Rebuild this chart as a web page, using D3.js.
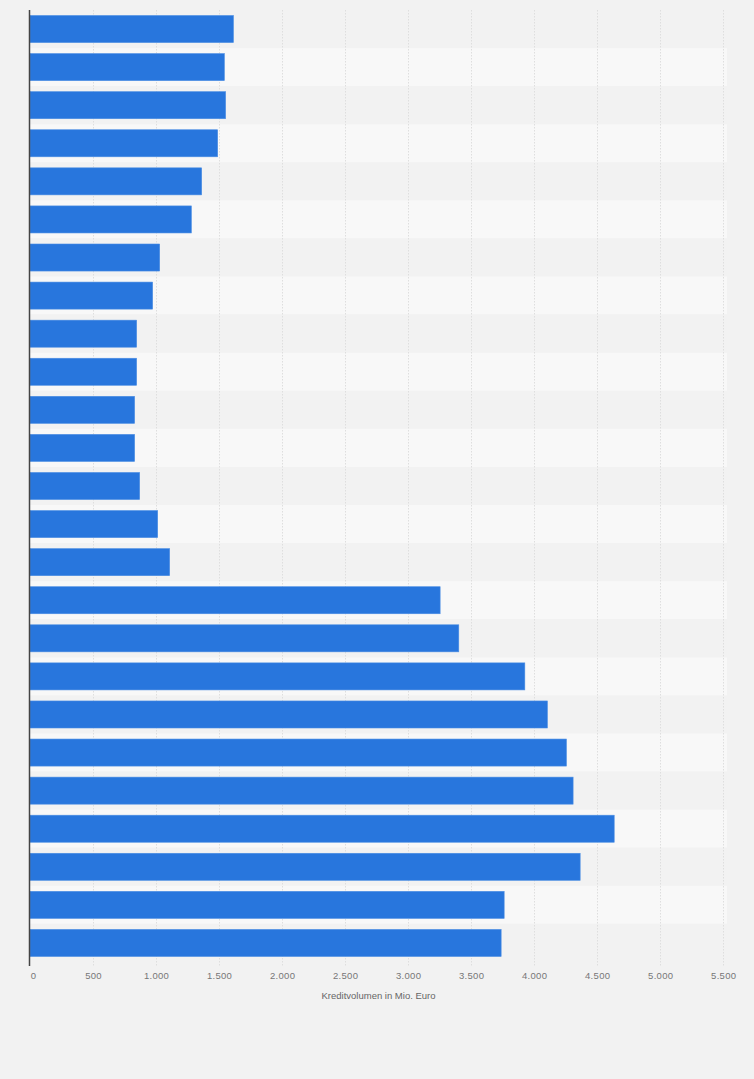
<!DOCTYPE html>
<html>
<head>
<meta charset="utf-8">
<script src="https://cdn.jsdelivr.net/npm/d3@7"></script>
<style>
  html, body { margin: 0; padding: 0; background: #f2f2f2; }
  svg { display: block; }
</style>
</head>
<body>
<div id="chart"></div>
<script>
// rows top to bottom (no labels are shown in the chart)
var categories = d3.range(1, 26).map(function(i){ return "Zeile " + i; });
var values = [1614, 1542, 1552, 1489, 1362, 1280, 1029, 973, 846, 846, 830, 830, 870, 1013, 1108,
              3254, 3402, 3926, 4105, 4256, 4309, 4635, 4365, 3762, 3738];
var tickValues = [0, 500, 1000, 1500, 2000, 2500, 3000, 3500, 4000, 4500, 5000, 5500];
var axisTitle = "Kreditvolumen in Mio. Euro";

var width = 754, height = 1079;
var margin = {top: 10, left: 30, right: 27, bottom: 117};
var innerW = width - margin.left - margin.right;
var innerH = height - margin.top - margin.bottom;

var svg = d3.select("#chart").append("svg")
  .attr("width", width)
  .attr("height", height);

svg.append("rect").attr("width", width).attr("height", height).attr("fill", "#f2f2f2");

var g = svg.append("g").attr("transform", "translate(" + margin.left + "," + margin.top + ")");

var x = d3.scaleLinear().domain([0, 5530]).range([0, innerW]);
var y = d3.scaleBand().domain(categories).range([0, innerH]).paddingInner(0.29).paddingOuter(0.145);

// alternating row bands
var step = y.step();
g.selectAll("rect.band").data(categories).enter().append("rect")
  .attr("class", "band")
  .attr("x", 0)
  .attr("y", function(d){ return y(d) - (step - y.bandwidth()) / 2; })
  .attr("width", innerW)
  .attr("height", step)
  .attr("fill", function(d, i){ return i % 2 === 0 ? "#f2f2f2" : "#f8f8f8"; });

// gridlines
g.selectAll("line.grid").data(tickValues.slice(1)).enter().append("line")
  .attr("class", "grid")
  .attr("x1", function(d){ return Math.round(x(d)) + 0.5; })
  .attr("x2", function(d){ return Math.round(x(d)) + 0.5; })
  .attr("y1", 0)
  .attr("y2", innerH + 4)
  .attr("stroke", "#dedede")
  .attr("stroke-width", 1)
  .attr("stroke-dasharray", "1.5,1.5");

// bars
g.selectAll("rect.bar").data(values).enter().append("rect")
  .attr("class", "bar")
  .attr("x", 0)
  .attr("y", function(d, i){ return y(categories[i]); })
  .attr("width", function(d){ return x(d); })
  .attr("height", y.bandwidth())
  .attr("fill", "#2876dd")
  .attr("stroke", "#4a8de3")
  .attr("stroke-width", 0.6);

// x axis
var fmt = function(d){ return d3.format(",")(d).replace(/,/g, "."); };
var xAxis = g.append("g")
  .attr("transform", "translate(0," + innerH + ")")
  .call(d3.axisBottom(x).tickValues(tickValues).tickFormat(fmt).tickSize(0).tickPadding(10));
xAxis.select(".domain").remove();
xAxis.selectAll(".tick text")
  .attr("fill", "#777")
  .style("font-family", "'Liberation Sans', Arial, sans-serif")
  .style("font-size", "9.5px")
  .style("letter-spacing", "0.3px");
xAxis.selectAll(".tick").filter(function(d){ return d === 0; }).select("text").attr("dx", 3);

// y axis line
g.append("line")
  .attr("x1", -0.5).attr("x2", -0.5)
  .attr("y1", 0).attr("y2", innerH + 4)
  .attr("stroke", "#444")
  .attr("stroke-width", 1.5);

// axis title
g.append("text")
  .attr("x", innerW / 2)
  .attr("y", innerH + 37)
  .attr("text-anchor", "middle")
  .attr("fill", "#666")
  .style("font-family", "'Liberation Sans', Arial, sans-serif")
  .style("font-size", "9.5px")
  .text(axisTitle);
</script>
</body>
</html>
